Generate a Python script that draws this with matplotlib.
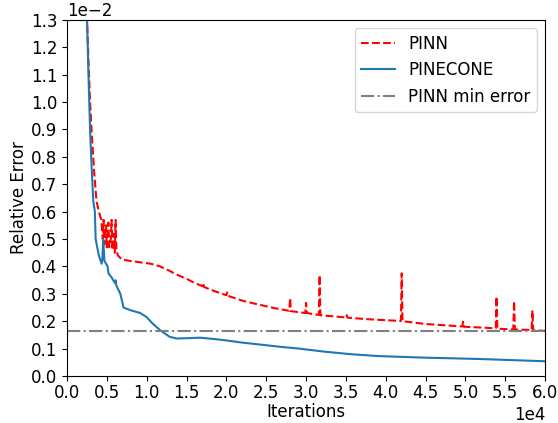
import matplotlib
matplotlib.use("Agg")
import matplotlib.pyplot as plt
import numpy as np

# iterations in units of 1e4, error in units of 1e-2
pinn_x = [0.25, 0.27, 0.29, 0.31, 0.34, 0.37, 0.40, 0.43,
          0.45, 0.46, 0.47, 0.49, 0.50, 0.52, 0.53, 0.55, 0.56, 0.57, 0.59, 0.60, 0.61, 0.62, 0.64,
          0.69, 0.80, 0.92, 1.05, 1.17, 1.28, 1.38, 1.50, 1.60, 1.70, 1.71, 1.72,
          1.85, 2.00, 2.01, 2.02, 2.20, 2.42, 2.60, 2.79, 2.80, 2.81, 2.99, 3.00, 3.01,
          3.16, 3.17, 3.18, 3.50, 3.51, 3.52, 3.80, 4.19, 4.20, 4.21, 4.50,
          4.96, 4.97, 4.98, 5.20, 5.38, 5.39, 5.40, 5.60, 5.61, 5.62, 5.83, 5.84, 5.85, 6.00]
pinn_y = [1.32, 1.15, 1.00, 0.89, 0.75, 0.64, 0.60, 0.57,
          0.50, 0.57, 0.48, 0.55, 0.47, 0.56, 0.47, 0.50, 0.57, 0.46, 0.52, 0.45, 0.57, 0.46, 0.44,
          0.425, 0.42, 0.415, 0.41, 0.40, 0.385, 0.37, 0.355, 0.34, 0.328, 0.34, 0.325,
          0.31, 0.295, 0.305, 0.293, 0.275, 0.26, 0.248, 0.238, 0.285, 0.237, 0.23, 0.267, 0.23,
          0.223, 0.368, 0.222, 0.214, 0.222, 0.213, 0.207, 0.201, 0.375, 0.20, 0.19,
          0.181, 0.198, 0.18, 0.177, 0.174, 0.29, 0.173, 0.17, 0.274, 0.17, 0.168, 0.24, 0.167, 0.165]

pinecone_x = [0.25, 0.27, 0.29, 0.31, 0.33, 0.34, 0.35, 0.36, 0.40, 0.435, 0.445, 0.455,
              0.47, 0.49, 0.51, 0.52, 0.56, 0.60, 0.61, 0.62, 0.67, 0.71, 0.80, 0.92,
              1.00, 1.08, 1.18, 1.29, 1.38, 1.50, 1.67, 1.85, 2.00, 2.20, 2.42, 2.70,
              2.92, 3.20, 3.55, 3.90, 4.20, 4.50, 4.80, 5.20, 5.60, 6.00]
pinecone_y = [1.32, 1.10, 0.90, 0.76, 0.64, 0.62, 0.60, 0.50, 0.44, 0.41, 0.43, 0.50,
              0.42, 0.41, 0.40, 0.375, 0.36, 0.34, 0.35, 0.33, 0.30, 0.25, 0.24, 0.23,
              0.215, 0.19, 0.165, 0.143, 0.137, 0.138, 0.14, 0.135, 0.13, 0.122, 0.115, 0.106,
              0.10, 0.09, 0.08, 0.073, 0.07, 0.067, 0.065, 0.062, 0.058, 0.054]

pinn_min = 0.166

plt.rcParams['font.size'] = 12

fig = plt.figure(figsize=(5.58, 4.23), dpi=100)
ax = fig.add_axes([0.120, 0.111, 0.857, 0.842])

ax.plot(np.array(pinn_x) * 1e4, np.array(pinn_y) * 1e-2, 'r--', label='PINN')
ax.plot(np.array(pinecone_x) * 1e4, np.array(pinecone_y) * 1e-2, color='tab:blue', label='PINECONE')
ax.axhline(pinn_min * 1e-2, color='gray', linestyle='-.', label='PINN min error')

ax.set_xlim(0, 6e4)
ax.set_ylim(0, 1.3e-2)
ax.set_xticks(np.arange(0, 6.01e4, 0.5e4))
ax.set_yticks(np.arange(0, 1.31e-2, 0.1e-2))
ax.ticklabel_format(style='sci', scilimits=(0, 0))
ax.tick_params(axis='x', pad=2)
ax.set_xlabel('Iterations', labelpad=1)
ax.set_ylabel('Relative Error', labelpad=2)
ax.legend(loc='upper right')

fig.savefig('out.png', dpi=100)
